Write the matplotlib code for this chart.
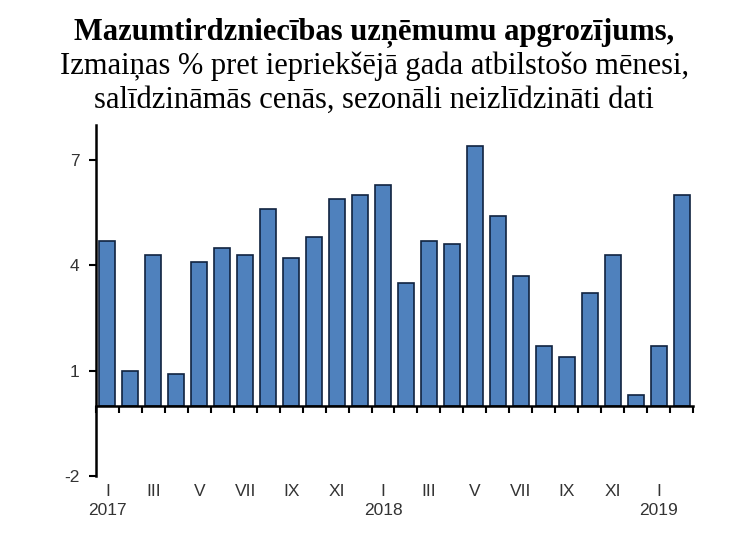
import matplotlib.pyplot as plt
import numpy as np

months = ["I", "II", "III", "IV", "V", "VI", "VII", "VIII", "IX", "X", "XI", "XII",
          "I", "II", "III", "IV", "V", "VI", "VII", "VIII", "IX", "X", "XI", "XII",
          "I", "II"]
years = {0: "2017", 12: "2018", 24: "2019"}
values = [4.7, 1.0, 4.3, 0.9, 4.1, 4.5, 4.3, 5.6, 4.2, 4.8, 5.9, 6.0,
          6.3, 3.5, 4.7, 4.6, 7.4, 5.4, 3.7, 1.7, 1.4, 3.2, 4.3, 0.3,
          1.7, 6.0]
yticks = [7, 4, 1, -2]

plt.rcParams['font.family'] = ['Liberation Sans', 'DejaVu Sans']
plt.rcParams['axes.unicode_minus'] = False

fig = plt.figure(figsize=(7.48, 5.47), dpi=100)
ax = fig.add_axes([0.1283, 0.1298, 0.7982, 0.6417])

x = np.arange(len(values))
ax.bar(x, values, width=0.7, color="#4F81BD", edgecolor="#10233F", linewidth=1.2)

ax.set_xlim(-0.5, len(values) - 0.5)
ax.set_ylim(-2, 8)
ax.set_yticks(yticks)
ax.tick_params(axis='y', direction='out', length=5, width=1.5, labelsize=12.5,
               labelcolor="#333333", pad=7)

for s in ["top", "right"]:
    ax.spines[s].set_visible(False)
ax.spines["left"].set_linewidth(1.8)
ax.spines["bottom"].set_position(("data", 0))
ax.spines["bottom"].set_linewidth(1.8)

ax.set_xticks(np.arange(len(values) + 1) - 0.5)
ax.set_xticklabels([])
ax.tick_params(axis='x', direction='out', length=5, width=1.5)

trans = ax.get_xaxis_transform()
for i, m in enumerate(months):
    if i % 2 == 0:
        ax.text(i, -0.045, m, transform=trans, ha="center", va="center", fontsize=12.5, color="#333333")
for i, yr in years.items():
    ax.text(i, -0.097, yr, transform=trans, ha="center", va="center", fontsize=12.5, color="#333333")

fig.text(0.5, 0.927, "Mazumtirdzniecības uzņēmumu apgrozījums,", ha="center", va="baseline",
         fontsize=22, fontweight="bold", family="Liberation Serif")
fig.text(0.5, 0.865, "Izmaiņas % pret iepriekšējā gada atbilstošo mēnesi,", ha="center", va="baseline",
         fontsize=22, family="Liberation Serif")
fig.text(0.5, 0.803, "salīdzināmās cenās, sezonāli neizlīdzināti dati", ha="center", va="baseline",
         fontsize=22, family="Liberation Serif")

fig.savefig("out.png", dpi=100)
